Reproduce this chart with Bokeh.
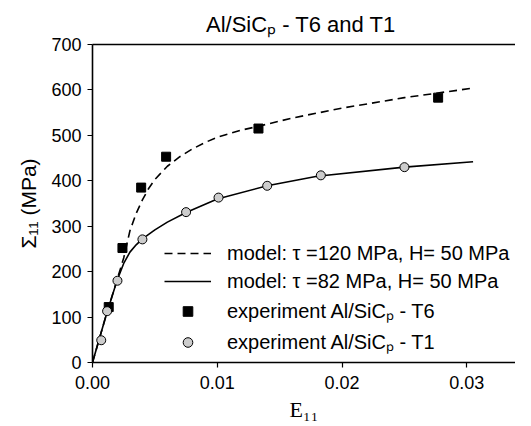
from bokeh.plotting import figure
from bokeh.models import Legend, LegendItem, FixedTicker, NumeralTickFormatter, LinearAxis, Range1d
from bokeh.embed import file_html
from bokeh.resources import INLINE

# ---- data ----
model_t6_x = [0, 0.001, 0.0015, 0.002, 0.0025, 0.003, 0.0035, 0.004, 0.0045, 0.005, 0.006, 0.007, 0.008, 0.009,
              0.010, 0.012, 0.0133, 0.016, 0.020, 0.025, 0.0305]
model_t6_y = [0, 95, 140, 185, 230, 290, 328, 358, 383, 403, 432, 453, 470, 484, 496, 512, 520, 538, 560, 583, 604]
model_t1_x = [0, 0.001, 0.0015, 0.002, 0.0025, 0.003, 0.0035, 0.004, 0.005, 0.006, 0.0075, 0.010, 0.014, 0.018,
              0.025, 0.0305]
model_t1_y = [0, 95, 140, 183, 218, 243, 259, 272, 292, 309, 330, 360, 389, 410, 430, 442]
exp_t6_x = [0.0013, 0.0024, 0.0039, 0.0059, 0.0133, 0.0277]
exp_t6_y = [122, 252, 385, 453, 515, 583]
exp_t1_x = [0.0007, 0.00117, 0.002, 0.004, 0.0075, 0.0101, 0.014, 0.0183, 0.025]
exp_t1_y = [49, 113, 180, 271, 331, 363, 389, 412, 430]
x_ticks = [0, 0.01, 0.02, 0.03]
y_ticks = [0, 100, 200, 300, 400, 500, 600, 700]
labels = ["model: \u03c4 =120 MPa, H= 50 MPa",
          "model: \u03c4 =82 MPa, H= 50 MPa",
          "experiment Al/SiC\u209a - T6",
          "experiment Al/SiC\u209a - T1"]

FONT = "Liberation Sans"

p = figure(width=515, height=424, output_backend="svg", toolbar_location=None,
           x_range=Range1d(0, 0.0339), y_range=Range1d(0, 700),
           title="Al/SiC\u209a  - T6 and T1",
           min_border_left=92, min_border_right=0, min_border_top=44, min_border_bottom=50)
p.title.align = "center"
p.title.text_font = FONT
p.title.text_font_size = "22px"
p.title.text_font_style = "normal"
p.title.text_color = "black"
p.title.standoff = 16

p.outline_line_color = None
p.grid.visible = False
p.background_fill_color = "white"
p.border_fill_color = "white"

r1 = p.line(model_t6_x, model_t6_y, line_color="black", line_width=1.6, line_dash="8 5")
r2 = p.line(model_t1_x, model_t1_y, line_color="black", line_width=1.6)
r3 = p.scatter(exp_t6_x, exp_t6_y, marker="square", size=9, fill_color="black", line_color="black")
r4 = p.scatter(exp_t1_x, exp_t1_y, marker="circle", size=9, fill_color="#cccccc", line_color="black", line_width=1)

# axes
for ax in (p.xaxis[0], p.yaxis[0]):
    ax.axis_line_color = "black"
    ax.axis_line_width = 1.6
    ax.major_tick_line_color = "black"
    ax.major_tick_line_width = 1.2
    ax.major_tick_in = 0
    ax.major_tick_out = 5
    ax.minor_tick_line_color = None
    ax.major_label_text_font = FONT
    ax.major_label_text_font_size = "18px"
    ax.major_label_text_color = "black"
    ax.axis_label_text_font_style = "normal"
    ax.axis_label_text_color = "black"

p.xaxis[0].ticker = FixedTicker(ticks=x_ticks)
p.xaxis[0].formatter = NumeralTickFormatter(format="0.00")
p.xaxis[0].major_label_standoff = 8
p.xaxis[0].axis_label = "E\u2081\u2081"
p.xaxis[0].axis_label_text_font = "Liberation Serif"
p.xaxis[0].axis_label_text_font_size = "22px"
p.xaxis[0].axis_label_standoff = 5

p.yaxis[0].ticker = FixedTicker(ticks=y_ticks)
p.yaxis[0].major_label_standoff = 6
p.yaxis[0].axis_label = "\u03a3\u2081\u2081 (MPa)"
p.yaxis[0].axis_label_text_font = FONT
p.yaxis[0].axis_label_text_font_size = "21px"
p.yaxis[0].axis_label_standoff = 8

top = LinearAxis(ticker=FixedTicker(ticks=[]), axis_line_color="black", axis_line_width=1.6,
                 major_tick_line_color=None, minor_tick_line_color=None,
                 major_label_text_font_size="0px", major_label_standoff=0)
p.add_layout(top, "above")

legend = Legend(items=[LegendItem(label=labels[0], renderers=[r1]),
                       LegendItem(label=labels[1], renderers=[r2]),
                       LegendItem(label=labels[2], renderers=[r3]),
                       LegendItem(label=labels[3], renderers=[r4])],
                location=(72, 7), padding=0, margin=0, spacing=4,
                glyph_width=47, glyph_height=24, label_height=24, label_standoff=16,
                label_text_font=FONT, label_text_font_size="20px", label_text_color="black",
                background_fill_alpha=0, border_line_color=None)
p.add_layout(legend, "center")

open("out.html", "w").write(file_html(p, INLINE))
